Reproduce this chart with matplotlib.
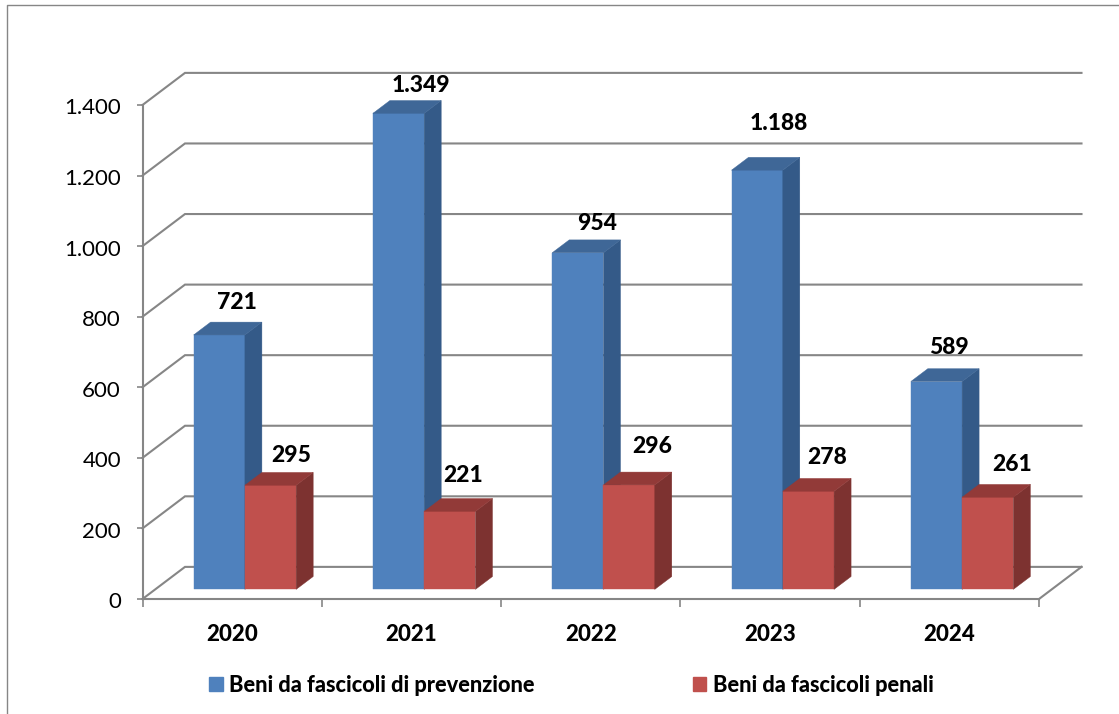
import numpy as np
import matplotlib
matplotlib.use("Agg")
import matplotlib.pyplot as plt
from matplotlib.lines import Line2D
from matplotlib.patches import Patch, Polygon
from matplotlib.transforms import ScaledTranslation

plt.rcParams['font.family'] = ['Lato', 'DejaVu Sans']

# ---------- data ----------
years = ["2020", "2021", "2022", "2023", "2024"]
prevenzione = [721, 1349, 954, 1188, 589]
penali = [295, 221, 296, 278, 261]
y_ticks = [0, 200, 400, 600, 800, 1000, 1200, 1400]
y_labels = ["0", "200", "400", "600", "800", "1.000", "1.200", "1.400"]
value_labels_prev = ["721", "1.349", "954", "1.188", "589"]
value_labels_pen = ["295", "221", "296", "278", "261"]

# label offsets from the front-top centre of each bar, in pixels
offset_prev = [(18, 32), (22, 28), (19, 29), (22, 47), (12, 34)]
offset_pen = [(21, 30), (13, 36), (23, 38), (19, 34), (24, 33)]

# ---------- style ----------
grid_col = "#868686"
blue = ("#4F81BD", "#345A88", "#3F6797")  # front, side, top
red = ("#C0504D", "#7D3230", "#923A38")
bold = 900

depth_x = 0.237   # depth of the chart box, in category widths
depth_y = 91      # same, in value units
bar_w = 0.286
bar_start = 0.30  # where bars start inside the depth
bar_depth = 0.40

fig = plt.figure(figsize=(11.19, 7.14), dpi=100)
ax = fig.add_axes([142.5 / 1119, 1 - 599 / 714, 896.5 / 1119, 494 / 714])
ax.set_xlim(0, 5)
ax.set_ylim(0, 1400)
ax.patch.set_visible(False)

# outer frame of the chart
fig.add_artist(Line2D([7 / 1119, 7 / 1119, 1], [0, 1 - 4.5 / 714, 1 - 4.5 / 714],
                      color=grid_col, lw=1.0))

# back wall lines
for v in y_ticks:
    ax.plot([0, depth_x, 5 + depth_x], [v, v + depth_y, v + depth_y],
            color=grid_col, lw=1.5, clip_on=False, zorder=1, solid_joinstyle='miter')
ax.plot([5, 5 + depth_x], [0, depth_y], color=grid_col, lw=1.5, clip_on=False, zorder=1)


def draw_bar(x0, val, cols, z):
    dx = bar_depth * depth_x
    dy = bar_depth * depth_y
    base = bar_start * depth_y
    ax.bar(x0, val, bar_w, bottom=base, align='edge', color=cols[0],
           clip_on=False, zorder=z, edgecolor=cols[0], linewidth=0.3)
    top = base + val
    ax.add_patch(Polygon([(x0 + bar_w, base), (x0 + bar_w + dx, base + dy),
                          (x0 + bar_w + dx, top + dy), (x0 + bar_w, top)],
                         facecolor=cols[1], edgecolor=cols[1], lw=0.3,
                         clip_on=False, zorder=z))
    ax.add_patch(Polygon([(x0, top), (x0 + bar_w, top),
                          (x0 + bar_w + dx, top + dy), (x0 + dx, top + dy)],
                         facecolor=cols[2], edgecolor=cols[2], lw=0.3,
                         clip_on=False, zorder=z))


for i in range(len(years)):
    x_left = i + 0.5 - bar_w + bar_start * depth_x
    draw_bar(x_left, prevenzione[i], blue, 3)
    draw_bar(x_left + bar_w, penali[i], red, 4)

    for xc, val, txt, off in [(x_left + bar_w / 2, prevenzione[i], value_labels_prev[i], offset_prev[i]),
                              (x_left + 1.5 * bar_w, penali[i], value_labels_pen[i], offset_pen[i])]:
        ax.annotate(txt, (xc, val + bar_start * depth_y), xytext=off,
                    textcoords='offset pixels', ha='center', va='center',
                    fontsize=16.5, fontweight=bold, color='black',
                    annotation_clip=False, zorder=6)

# axes
for s in ['top', 'right']:
    ax.spines[s].set_visible(False)
for s in ['left', 'bottom']:
    ax.spines[s].set_color(grid_col)
    ax.spines[s].set_linewidth(1.5)
    ax.spines[s].set_zorder(2)

ax.set_yticks(y_ticks, y_labels)
ax.tick_params(axis='y', length=4.5, width=1.2, color=grid_col, pad=11,
               labelsize=16, labelcolor='black')
# nudge the y labels down a little, they sit under the tick in the original
nudge = ScaledTranslation(0, -1 / 72, fig.dpi_scale_trans)
for lab in ax.get_yticklabels():
    lab.set_transform(lab.get_transform() + nudge)
ax.set_xticks(range(len(years) + 1), [""] * (len(years) + 1))
ax.tick_params(axis='x', which='major', length=5.5, width=1.2, color=grid_col)
ax.set_xticks(np.arange(len(years)) + 0.5, years, minor=True)
ax.tick_params(axis='x', which='minor', length=0, pad=18, labelsize=16)
for lab in ax.get_xticklabels(minor=True):
    lab.set_fontweight(bold)

handles = [Patch(color=blue[0], label="Beni da fascicoli di prevenzione"),
           Patch(color=red[0], label="Beni da fascicoli penali")]
fig.legend(handles=handles, loc='center left', bbox_to_anchor=(209 / 1119, 1 - 685.5 / 714),
           ncol=2, frameon=False, borderpad=0, borderaxespad=0,
           handlelength=0.62, handleheight=0.62, handletextpad=0.3,
           columnspacing=7.25, prop={'size': 15.7, 'weight': bold})

fig.savefig("out.png", dpi=100)
